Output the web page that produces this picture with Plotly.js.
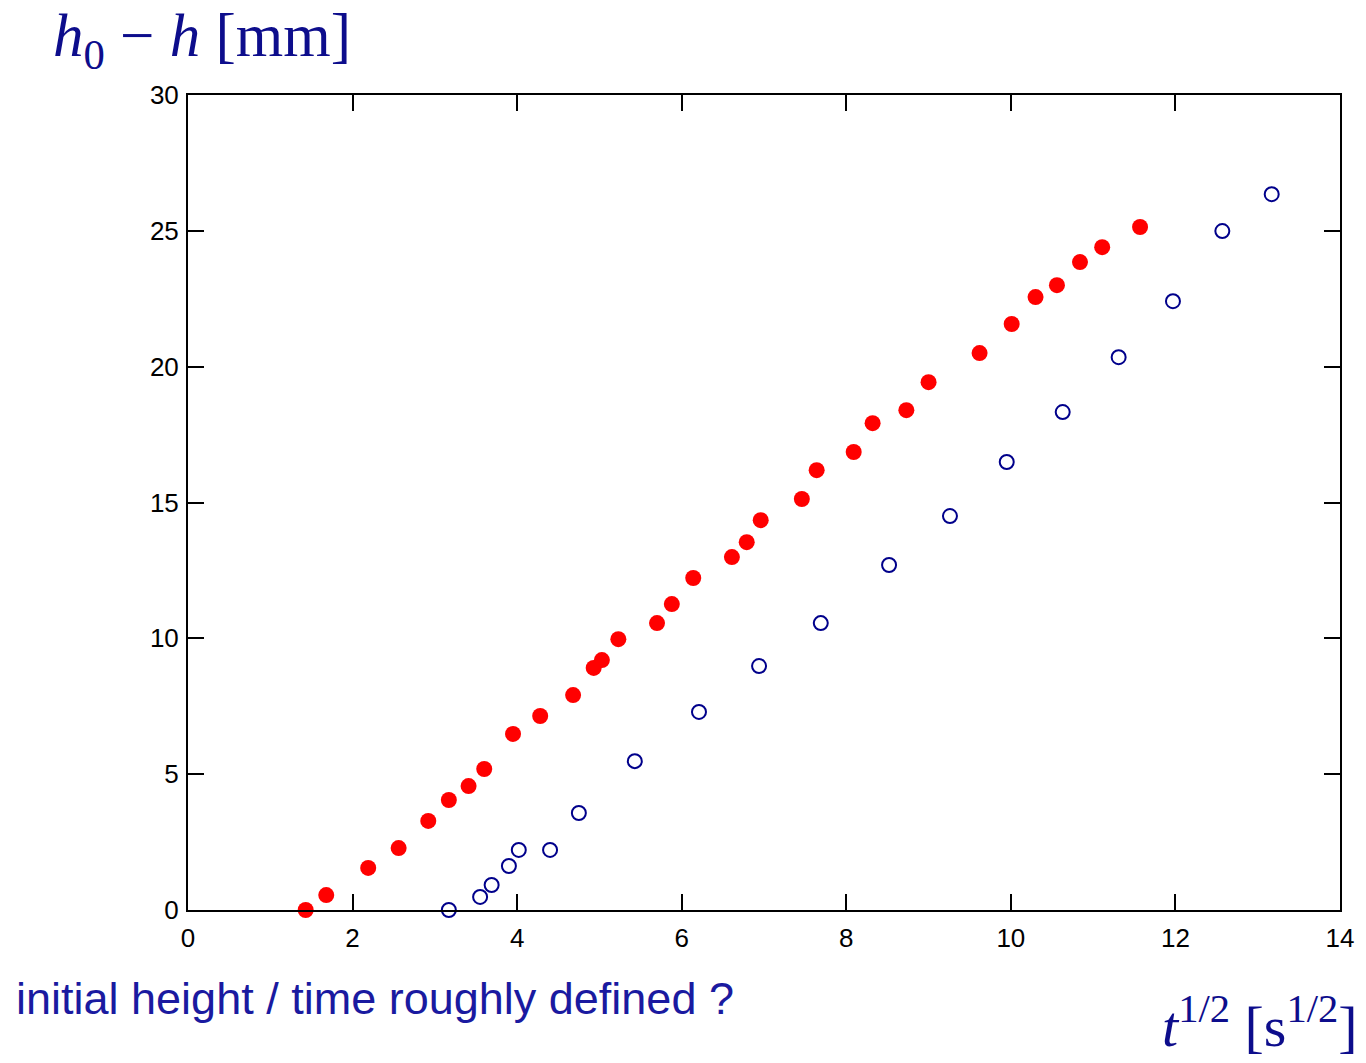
<!DOCTYPE html>
<html>
<head>
<meta charset="utf-8">
<script src="https://cdn.plot.ly/plotly-3.0.1.min.js"></script>
<style>html,body{margin:0;padding:0;background:#fff;}#chart{width:1366px;height:1063px;}</style>
</head>
<body>
<div id="chart"></div>
<script>
// Filled red series: sqrt(t) [s^1/2] vs h0 - h [mm]
const redX = [1.43, 1.68, 2.19, 2.56, 2.92, 3.17, 3.41, 3.60, 3.95, 4.28, 4.68, 4.93, 5.03, 5.23, 5.70, 5.88, 6.14, 6.61, 6.79, 6.96, 7.46, 7.64, 8.09, 8.32, 8.73, 9.00, 9.62, 10.01, 10.30, 10.56, 10.84, 11.11, 11.57];
const redY = [0.00, 0.55, 1.55, 2.28, 3.28, 4.05, 4.56, 5.19, 6.48, 7.14, 7.91, 8.91, 9.20, 9.97, 10.56, 11.26, 12.22, 12.99, 13.54, 14.35, 15.13, 16.19, 16.86, 17.92, 18.40, 19.43, 20.50, 21.57, 22.56, 23.00, 23.85, 24.40, 25.14];
// Open blue series
const blueX = [3.17, 3.55, 3.69, 3.90, 4.02, 4.40, 4.75, 5.43, 6.21, 6.94, 7.69, 8.52, 9.26, 9.95, 10.63, 11.31, 11.97, 12.57, 13.17];
const blueY = [0.00, 0.48, 0.92, 1.62, 2.21, 2.21, 3.57, 5.48, 7.29, 8.98, 10.56, 12.70, 14.50, 16.49, 18.33, 20.35, 22.41, 24.99, 26.35];

const xTicks = [0, 2, 4, 6, 8, 10, 12, 14];
const yTicks = [0, 5, 10, 15, 20, 25, 30];

const titleColor = '#0d0d8c';

const traces = [
  {x: redX, y: redY, type: 'scatter', mode: 'markers', cliponaxis: false,
   marker: {color: '#ff0000', size: 16, line: {width: 0}}},
  {x: blueX, y: blueY, type: 'scatter', mode: 'markers', cliponaxis: false,
   marker: {color: 'rgba(0,0,0,0)', size: 14, line: {color: '#00008b', width: 2}}}
];

const axisCommon = {
  showgrid: false, zeroline: false, showline: true, linecolor: '#000', linewidth: 2,
  mirror: 'ticks', ticks: 'inside', ticklen: 16, tickwidth: 2, tickcolor: '#000',
  tickfont: {family: 'Liberation Sans, Arial, sans-serif', size: 26, color: '#000'}
};

const layout = {
  width: 1366, height: 1063,
  margin: {l: 188, r: 26, t: 95, b: 153},
  paper_bgcolor: '#fff', plot_bgcolor: '#fff',
  showlegend: false,
  xaxis: Object.assign({}, axisCommon, {range: [0, 14], tickvals: xTicks, ticktext: xTicks.map(String), ticklabelstandoff: 4}),
  yaxis: Object.assign({}, axisCommon, {range: [0, 30], tickvals: yTicks, ticktext: yTicks.map(String), ticklabelstandoff: 2}),
  annotations: [
    {xref: 'paper', yref: 'paper', x: -0.119, y: 1.068, xanchor: 'left', yanchor: 'middle', showarrow: false,
     text: '<i>h</i><sub>0</sub> − <i>h</i> [mm]',
     font: {family: 'Liberation Serif, DejaVu Serif, serif', size: 61, color: titleColor}},
    {xref: 'paper', yref: 'paper', x: 1.0174, y: -0.138, xanchor: 'right', yanchor: 'middle', showarrow: false,
     text: '<i>t</i><sup>1/2</sup> [s<sup>1/2</sup>]',
     font: {family: 'Liberation Serif, DejaVu Serif, serif', size: 58, color: titleColor}},
    {xref: 'paper', yref: 'paper', x: -0.151, y: -0.108, xanchor: 'left', yanchor: 'middle', showarrow: false,
     text: 'initial height / time roughly defined ?',
     font: {family: 'Liberation Sans, Arial, sans-serif', size: 45, color: '#1a1aa0'}}
  ]
};

Plotly.newPlot('chart', traces, layout, {displayModeBar: false, staticPlot: true});
</script>
</body>
</html>
